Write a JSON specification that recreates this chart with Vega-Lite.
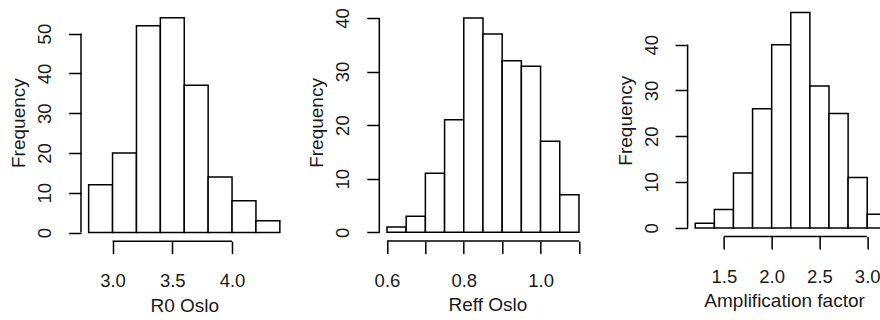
{
  "$schema": "https://vega.github.io/schema/vega-lite/v6.json",
  "background": "white",
  "padding": {"left": 9, "top": 4, "right": 0, "bottom": 0},
  "bounds": "flush",
  "spacing": 91.3,
  "datasets": {
    "r0": [
      {"start": 2.8, "end": 3.0, "count": 12},
      {"start": 3.0, "end": 3.2, "count": 20},
      {"start": 3.2, "end": 3.4, "count": 52},
      {"start": 3.4, "end": 3.6, "count": 54},
      {"start": 3.6, "end": 3.8, "count": 37},
      {"start": 3.8, "end": 4.0, "count": 14},
      {"start": 4.0, "end": 4.2, "count": 8},
      {"start": 4.2, "end": 4.4, "count": 3}
    ],
    "reff": [
      {"start": 0.60, "end": 0.65, "count": 1},
      {"start": 0.65, "end": 0.70, "count": 3},
      {"start": 0.70, "end": 0.75, "count": 11},
      {"start": 0.75, "end": 0.80, "count": 21},
      {"start": 0.80, "end": 0.85, "count": 40},
      {"start": 0.85, "end": 0.90, "count": 37},
      {"start": 0.90, "end": 0.95, "count": 32},
      {"start": 0.95, "end": 1.00, "count": 31},
      {"start": 1.00, "end": 1.05, "count": 17},
      {"start": 1.05, "end": 1.10, "count": 7}
    ],
    "amp": [
      {"start": 1.2, "end": 1.4, "count": 1},
      {"start": 1.4, "end": 1.6, "count": 4},
      {"start": 1.6, "end": 1.8, "count": 12},
      {"start": 1.8, "end": 2.0, "count": 26},
      {"start": 2.0, "end": 2.2, "count": 40},
      {"start": 2.2, "end": 2.4, "count": 47},
      {"start": 2.4, "end": 2.6, "count": 31},
      {"start": 2.6, "end": 2.8, "count": 25},
      {"start": 2.8, "end": 3.0, "count": 11},
      {"start": 3.0, "end": 3.2, "count": 3}
    ]
  },
  "hconcat": [
    {
      "width": 206.5,
      "height": 237.2,
      "layer": [
        {
          "data": {"name": "r0"},
          "mark": {"type": "rect", "fill": "white", "stroke": "black", "strokeWidth": 1.5},
          "encoding": {
            "x": {"field": "start", "type": "quantitative", "scale": {"domain": [2.736, 4.464], "nice": false, "zero": false},
                  "axis": {"title": "R0 Oslo", "values": [3.0, 3.5, 4.0], "format": ".1f"}},
            "x2": {"field": "end"},
            "y": {"field": "count", "type": "quantitative", "scale": {"domain": [-2.16, 57.44], "nice": false, "zero": false},
                  "axis": {"title": "Frequency", "values": [0, 10, 20, 30, 40, 50]}},
            "y2": {"datum": 0}
          }
        },
        {
          "data": {"values": [{"a": 3.0, "b": 4.0}]},
          "mark": {"type": "rule", "stroke": "black", "strokeWidth": 1.5},
          "encoding": {"x": {"field": "a", "type": "quantitative"}, "x2": {"field": "b"}, "y": {"datum": -2.16}}
        },
        {
          "data": {"values": [{"a": 0, "b": 50}]},
          "mark": {"type": "rule", "stroke": "black", "strokeWidth": 1.5},
          "encoding": {"y": {"field": "a", "type": "quantitative"}, "y2": {"field": "b"}, "x": {"datum": 2.736}}
        }
      ]
    },
    {
      "width": 216.1,
      "height": 236.9,
      "layer": [
        {
          "data": {"name": "reff"},
          "mark": {"type": "rect", "fill": "white", "stroke": "black", "strokeWidth": 1.5},
          "encoding": {
            "x": {"field": "start", "type": "quantitative", "scale": {"domain": [0.58, 1.1428], "nice": false, "zero": false},
                  "axis": {"title": "Reff Oslo", "values": [0.6, 0.7, 0.8, 0.9, 1.0, 1.1],
                           "labelExpr": "(datum.value == 0.6 || datum.value == 0.8 || datum.value == 1) ? format(datum.value, '.1f') : ''"}},
            "x2": {"field": "end"},
            "y": {"field": "count", "type": "quantitative", "scale": {"domain": [-1.6, 42.6], "nice": false, "zero": false},
                  "axis": {"title": "Frequency", "values": [0, 10, 20, 30, 40]}},
            "y2": {"datum": 0}
          }
        },
        {
          "data": {"values": [{"a": 0.6, "b": 1.1}]},
          "mark": {"type": "rule", "stroke": "black", "strokeWidth": 1.5},
          "encoding": {"x": {"field": "a", "type": "quantitative"}, "x2": {"field": "b"}, "y": {"datum": -1.6}}
        },
        {
          "data": {"values": [{"a": 0, "b": 40}]},
          "mark": {"type": "rule", "stroke": "black", "strokeWidth": 1.5},
          "encoding": {"y": {"field": "a", "type": "quantitative"}, "y2": {"field": "b"}, "x": {"datum": 0.58}}
        }
      ]
    },
    {
      "width": 193,
      "height": 232.5,
      "layer": [
        {
          "data": {"name": "amp"},
          "mark": {"type": "rect", "fill": "white", "stroke": "black", "strokeWidth": 1.5, "clip": true},
          "encoding": {
            "x": {"field": "start", "type": "quantitative", "scale": {"domain": [1.12, 3.14], "nice": false, "zero": false},
                  "axis": {"title": "Amplification factor", "values": [1.5, 2.0, 2.5, 3.0], "format": ".1f"}},
            "x2": {"field": "end"},
            "y": {"field": "count", "type": "quantitative", "scale": {"domain": [-1.88, 48.88], "nice": false, "zero": false},
                  "axis": {"title": "Frequency", "values": [0, 10, 20, 30, 40]}},
            "y2": {"datum": 0}
          }
        },
        {
          "data": {"values": [{"a": 1.5, "b": 3.0}]},
          "mark": {"type": "rule", "stroke": "black", "strokeWidth": 1.5},
          "encoding": {"x": {"field": "a", "type": "quantitative"}, "x2": {"field": "b"}, "y": {"datum": -1.88}}
        },
        {
          "data": {"values": [{"a": 0, "b": 40}]},
          "mark": {"type": "rule", "stroke": "black", "strokeWidth": 1.5},
          "encoding": {"y": {"field": "a", "type": "quantitative"}, "y2": {"field": "b"}, "x": {"datum": 1.12}}
        }
      ]
    }
  ],
  "config": {
    "view": {"stroke": null},
    "font": "Liberation Sans",
    "axis": {
      "grid": false,
      "domain": false,
      "labelFont": "Liberation Sans",
      "titleFont": "Liberation Sans",
      "labelFontSize": 18.5,
      "titleFontSize": 19,
      "titleFontWeight": "normal",
      "labelColor": "#1a1a1a",
      "titleColor": "#1a1a1a",
      "tickColor": "black",
      "tickWidth": 1.5,
      "tickSize": 12.5,
      "labelFlush": false,
      "labelOverlap": false
    },
    "axisX": {"labelPadding": 18, "titlePadding": 6},
    "axisY": {"labelAngle": -90, "labelPadding": 14, "titlePadding": 7}
  }
}
